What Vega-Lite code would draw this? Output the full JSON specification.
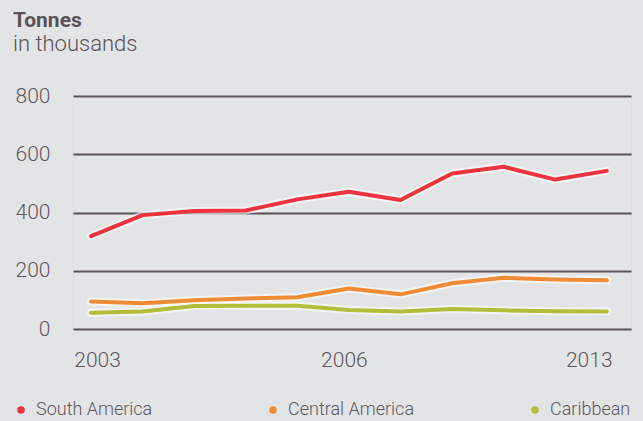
{
  "$schema": "https://vega.github.io/schema/vega-lite/v6.json",
  "width": 558,
  "height": 233,
  "autosize": "none",
  "padding": {"left": 73, "top": 96, "right": 12, "bottom": 92},
  "background": "#e3e4e5",
  "title": {
    "text": "Tonnes",
    "subtitle": "in thousands",
    "anchor": "start",
    "frame": "group",
    "dx": -60,
    "offset": 30,
    "font": "Roboto",
    "fontSize": 21,
    "fontWeight": "bold",
    "color": "#5a5258",
    "subtitleFont": "Roboto",
    "subtitleFontSize": 22,
    "subtitleFontWeight": 300,
    "subtitleColor": "#5a5258",
    "subtitlePadding": 3
  },
  "data": {
    "values": [
      {"t": 0, "region": "South America", "tonnes": 319},
      {"t": 1, "region": "South America", "tonnes": 391},
      {"t": 2, "region": "South America", "tonnes": 405},
      {"t": 3, "region": "South America", "tonnes": 407},
      {"t": 4, "region": "South America", "tonnes": 445},
      {"t": 5, "region": "South America", "tonnes": 471},
      {"t": 6, "region": "South America", "tonnes": 443},
      {"t": 7, "region": "South America", "tonnes": 534},
      {"t": 8, "region": "South America", "tonnes": 557},
      {"t": 9, "region": "South America", "tonnes": 513},
      {"t": 10, "region": "South America", "tonnes": 543},
      {"t": 0, "region": "Central America", "tonnes": 94},
      {"t": 1, "region": "Central America", "tonnes": 88},
      {"t": 2, "region": "Central America", "tonnes": 99},
      {"t": 3, "region": "Central America", "tonnes": 105},
      {"t": 4, "region": "Central America", "tonnes": 109},
      {"t": 5, "region": "Central America", "tonnes": 139},
      {"t": 6, "region": "Central America", "tonnes": 119},
      {"t": 7, "region": "Central America", "tonnes": 157},
      {"t": 8, "region": "Central America", "tonnes": 176},
      {"t": 9, "region": "Central America", "tonnes": 170},
      {"t": 10, "region": "Central America", "tonnes": 167},
      {"t": 0, "region": "Caribbean", "tonnes": 56},
      {"t": 1, "region": "Caribbean", "tonnes": 60},
      {"t": 2, "region": "Caribbean", "tonnes": 79},
      {"t": 3, "region": "Caribbean", "tonnes": 80},
      {"t": 4, "region": "Caribbean", "tonnes": 80},
      {"t": 5, "region": "Caribbean", "tonnes": 65},
      {"t": 6, "region": "Caribbean", "tonnes": 60},
      {"t": 7, "region": "Caribbean", "tonnes": 69},
      {"t": 8, "region": "Caribbean", "tonnes": 64},
      {"t": 9, "region": "Caribbean", "tonnes": 61},
      {"t": 10, "region": "Caribbean", "tonnes": 60}
    ]
  },
  "encoding": {
    "x": {
      "field": "t",
      "type": "quantitative",
      "scale": {"domain": [-0.35, 10.47], "nice": false, "zero": false},
      "axis": {
        "title": null,
        "values": [0, 5, 10],
        "labelExpr": "datum.value == 0 ? '2003' : datum.value == 5 ? '2006' : '2013'",
        "grid": false,
        "domain": false,
        "ticks": false,
        "labelPadding": 20,
        "labelBaseline": "top",
        "labelFont": "Roboto",
        "labelFontWeight": 300,
        "labelFontSize": 21,
        "labelColor": "#5e5760",
        "labelAlign": "center",
        "labelOffset": {"condition": [{"test": "datum.value == 0", "value": 6}, {"test": "datum.value == 10", "value": -18}], "value": -5}
      }
    },
    "y": {
      "field": "tonnes",
      "type": "quantitative",
      "scale": {"domain": [0, 800], "nice": false},
      "axis": {
        "title": null,
        "values": [0, 200, 400, 600, 800],
        "grid": true,
        "gridColor": "#5a5258",
        "gridWidth": 2,
        "domain": false,
        "ticks": false,
        "labelPadding": 23,
        "labelFont": "Roboto",
        "labelFontWeight": 300,
        "labelFontSize": 21,
        "labelColor": "#5e5760"
      }
    }
  },
  "layer": [
    {
      "mark": {"type": "line", "stroke": "white", "strokeWidth": 8, "opacity": 0.6, "strokeCap": "round", "strokeJoin": "round"},
      "encoding": {"detail": {"field": "region"}}
    },
    {
      "mark": {"type": "line", "strokeWidth": 4, "strokeCap": "round", "strokeJoin": "round"},
      "encoding": {
        "color": {
          "field": "region",
          "type": "nominal",
          "scale": {"domain": ["South America", "Central America", "Caribbean"], "range": ["#ec3340", "#ee8c35", "#b4bd3a"]},
          "legend": {
            "title": null,
            "orient": "none",
            "direction": "horizontal",
            "legendX": -61,
            "legendY": 305,
            "symbolType": "circle",
            "symbolSize": 16,
            "symbolStrokeWidth": 3.5,
            "columnPadding": 111,
            "labelFont": "Roboto",
            "labelFontWeight": 300,
            "labelFontSize": 18,
            "labelColor": "#5e5760",
            "labelOffset": 6
          }
        }
      }
    }
  ]
}
